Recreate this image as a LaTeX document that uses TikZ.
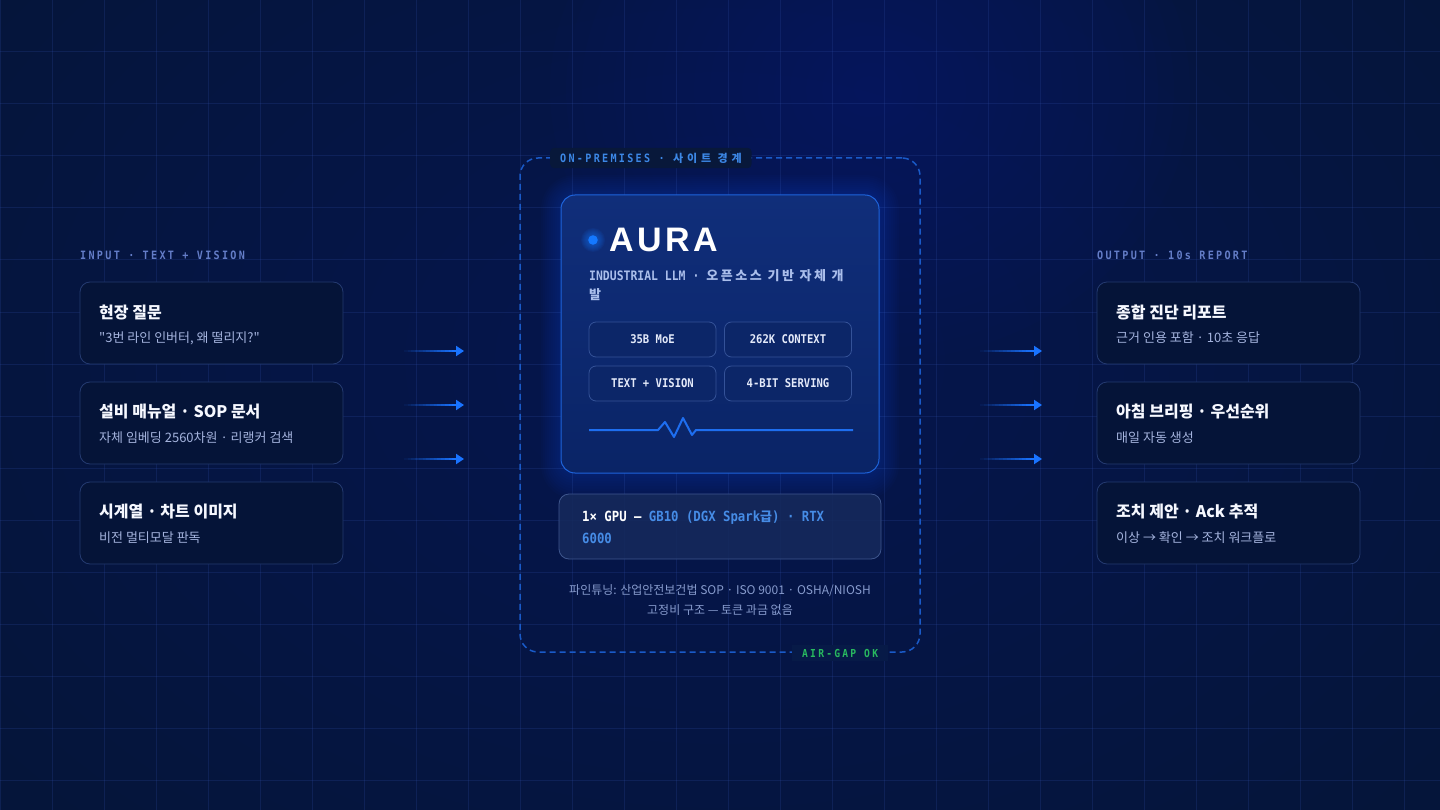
\documentclass[tikz,border=0pt]{standalone}
\usepackage{fontspec}
\setmainfont{Noto Sans CJK KR}
\newfontfamily\kr{Noto Sans CJK KR}
\newfontfamily\mono{DejaVu Sans Mono}[FakeStretch=0.88]
\newfontfamily\monols{DejaVu Sans Mono}[FakeStretch=0.88,LetterSpace=20]
\newfontfamily\krls{Noto Sans CJK KR}[LetterSpace=35]
\newfontfamily\krsub{Noto Sans CJK KR}[LetterSpace=20]
\newfontfamily\aurafont{Liberation Sans}[LetterSpace=10]
\usetikzlibrary{arrows.meta,calc}
\newcommand\fsz[1]{\fontsize{#1pt}{#1pt}\selectfont}
\definecolor{bg}{RGB}{5,21,58}
\definecolor{glowA}{RGB}{25,75,200}
\definecolor{glowB}{RGB}{20,60,160}
\definecolor{gridc}{RGB}{45,75,160}
\definecolor{cardfill}{RGB}{5,20,56}
\definecolor{cardborder}{RGB}{36,58,112}
\definecolor{titlec}{RGB}{246,248,255}
\definecolor{subc}{RGB}{165,180,222}
\definecolor{lblc}{RGB}{100,125,200}
\definecolor{arrowc}{RGB}{25,115,255}
\definecolor{dashc}{RGB}{25,90,200}
\definecolor{premc}{RGB}{60,135,230}
\definecolor{patchc}{RGB}{8,24,58}
\definecolor{auratop}{RGB}{16,46,122}
\definecolor{aurabot}{RGB}{10,36,102}
\definecolor{auraborder}{RGB}{30,100,220}
\definecolor{halo}{RGB}{30,100,255}
\definecolor{dotc}{RGB}{20,120,255}
\definecolor{aurasub}{RGB}{170,190,235}
\definecolor{chipb}{RGB}{52,82,152}
\definecolor{chipf}{RGB}{12,38,104}
\definecolor{chipt}{RGB}{228,234,250}
\definecolor{pulsec}{RGB}{30,110,240}
\definecolor{gpuf}{RGB}{22,42,92}
\definecolor{gpub}{RGB}{62,86,142}
\definecolor{gpublue}{RGB}{70,140,230}
\definecolor{footc}{RGB}{135,155,205}
\definecolor{greenc}{RGB}{40,185,95}
\definecolor{gappatch}{RGB}{7,26,71}
\newcommand\flowarr[2]{%
  \foreach \k in {0,...,13}{%
    \pgfmathsetmacro\op{(\k+1)/14}%
    \pgfmathsetmacro\ta{\k/14}%
    \pgfmathsetmacro\tb{(\k+1)/14}%
    \draw[arrowc, line width=1.8pt, draw opacity=\op] ($(#1)!\ta!($(#2)+(-8,0)$)$) -- ($(#1)!\tb!($(#2)+(-8,0)$)$);
  }%
  \draw[arrowc, line width=1.8pt, -{Triangle[length=8pt,width=10pt]}] ($(#2)+(-9,0)$) -- (#2);%
}
\begin{document}
\begin{tikzpicture}[x=1pt,y=-1pt,
  card/.style={draw=cardborder, fill=cardfill, rounded corners=10pt, line width=0.8pt, minimum width=263pt, minimum height=82pt, inner sep=0pt},
  ttl/.style={anchor=west, inner sep=0pt, text=titlec, font=\kr\bfseries\fsz{16}},
  sub/.style={anchor=west, inner sep=0pt, text=subc, font=\kr\fsz{13}},
  lbl/.style={anchor=west, inner sep=0pt, text=lblc, font=\monols\bfseries\fsz{11.5}},
  chip/.style={draw=chipb, fill=chipf, rounded corners=7pt, line width=0.8pt, minimum width=127pt, minimum height=35pt, text=chipt, font=\mono\bfseries\fsz{12}, inner sep=0pt},
  foot/.style={inner sep=0pt, text=footc, font=\kr\fsz{12}}
]
\useasboundingbox (0,0) rectangle (1440,810);
\clip (0,0) rectangle (1440,810);
\fill[bg] (0,0) rectangle (1440,810);
% background glows
\foreach \i in {1,...,20}{%
  \pgfmathsetmacro\rx{45*\i}\pgfmathsetmacro\ry{32*\i}%
  \fill[glowB, opacity=0.012] (720,360) ellipse [x radius=\rx pt, y radius=\ry pt];}
\foreach \i in {1,...,20}{%
  \pgfmathsetmacro\rr{16*\i}%
  \fill[glowA, opacity=0.015] (870,90) ellipse [x radius=\rr pt, y radius=0.85*\rr pt];}
% grid
\foreach \x in {0,52,...,1440} \draw[gridc, line width=1pt, opacity=0.24] (\x,0) -- (\x,810);
\foreach \y in {0,52,...,810} \draw[gridc, line width=1pt, opacity=0.24] (0,\y) -- (1440,\y);

% labels
\node[lbl] (inlbl) at (80,255) {INPUT · TEXT + VISION};
\node[lbl] (outlbl) at (1097,255) {OUTPUT · 10s REPORT};

% left cards
\node[card] (in1) at (211.5,323) {};
\node[card] (in2) at (211.5,423) {};
\node[card] (in3) at (211.5,523) {};
\node[ttl] (in1t) at (99,312) {현장 질문};
\node[sub] (in1s) at (99,338) {"3번 라인 인버터, 왜 떨리지?"};
\node[ttl] (in2t) at (99,412) {설비 매뉴얼 · SOP 문서};
\node[sub] (in2s) at (99,438) {자체 임베딩 2560차원 · 리랭커 검색};
\node[ttl] (in3t) at (99,512) {시계열 · 차트 이미지};
\node[sub] (in3s) at (99,538) {비전 멀티모달 판독};

% right cards
\node[card] (out1) at (1228.5,323) {};
\node[card] (out2) at (1228.5,423) {};
\node[card] (out3) at (1228.5,523) {};
\node[ttl] (out1t) at (1116,312) {종합 진단 리포트};
\node[sub] (out1s) at (1116,338) {근거 인용 포함 · 10초 응답};
\node[ttl] (out2t) at (1116,412) {아침 브리핑 · 우선순위};
\node[sub] (out2s) at (1116,438) {매일 자동 생성};
\node[ttl] (out3t) at (1116,512) {조치 제안 · Ack 추적};
\node[sub] (out3s) at (1116,538) {이상 → 확인 → 조치 워크플로};

% arrows
\coordinate (la1) at (404,351); \coordinate (lb1) at (464,351);
\coordinate (la2) at (404,405); \coordinate (lb2) at (464,405);
\coordinate (la3) at (404,459); \coordinate (lb3) at (464,459);
\coordinate (ra1) at (980,351); \coordinate (rb1) at (1042,351);
\coordinate (ra2) at (980,405); \coordinate (rb2) at (1042,405);
\coordinate (ra3) at (980,459); \coordinate (rb3) at (1042,459);
\flowarr{la1}{lb1}
\flowarr{la2}{lb2}
\flowarr{la3}{lb3}
\flowarr{ra1}{rb1}
\flowarr{ra2}{rb2}
\flowarr{ra3}{rb3}

% on-premises boundary
\node[draw=dashc, line width=1.5pt, dash pattern=on 6pt off 4pt, rounded corners=18pt, minimum width=400pt, minimum height=494pt, inner sep=0pt] (prem) at (720,405) {};
\node[fill=patchc, rounded corners=4pt, inner xsep=10pt, inner ysep=5pt, anchor=west, text=premc] (premlbl) at (550,158) {{\monols\bfseries\fsz{11.5}ON-PREMISES · }{\krls\bfseries\fsz{11}사이트 경계}};
\node[fill=gappatch, inner xsep=10pt, inner ysep=4pt, anchor=west, text=greenc, font=\monols\bfseries\fsz{11}] (gap) at (792,653) {AIR-GAP OK};

% halo of main card
\foreach \i in {1,...,10}
  \fill[halo, opacity=0.022, rounded corners={14pt+2*\i pt}] (561-2*\i,195-2*\i) rectangle (879+2*\i,473+2.6*\i);

% main card
\node[draw=auraborder, line width=1pt, rounded corners=14pt, top color=auratop, bottom color=aurabot, minimum width=318pt, minimum height=278pt, inner sep=0pt] (aura) at (720,334) {};
\foreach \r in {12,11,10,9,8,7,6}
  \fill[dotc, opacity=0.07] (593,240) circle (\r pt);
\fill[dotc] (593,240) circle (4.8pt);
\node[anchor=west, inner sep=0pt, text=white, font=\aurafont\bfseries\fsz{34}] (auratitle) at (609,240) {AURA};
\node[anchor=west, inner sep=0pt, text=aurasub] (aurasub1) at (589,276) {{\mono\bfseries\fsz{13}INDUSTRIAL LLM · }{\krsub\bfseries\fsz{13}오픈소스 기반 자체 개}};
\node[anchor=west, inner sep=0pt, text=aurasub, font=\kr\bfseries\fsz{13}] (aurasub2) at (589,295) {발};

\node[chip] (c1) at (652.5,339.5) {35B MoE};
\node[chip] (c2) at (788,339.5) {262K CONTEXT};
\node[chip] (c3) at (652.5,383.5) {TEXT + VISION};
\node[chip] (c4) at (788,383.5) {4-BIT SERVING};

\draw[pulsec, line width=2pt, line join=round] (589,430) -- (658,430) -- (665,422) -- (674,437) -- (683,418) -- (692,435) -- (696,430) -- (853,430);

% GPU box
\node[draw=gpub, fill=gpuf, fill opacity=0.85, line width=0.8pt, rounded corners=10pt, minimum width=322pt, minimum height=65pt, inner sep=0pt] (gpu) at (720,526.5) {};
\node[anchor=west, inner sep=0pt] (gpu1) at (582,518) {{\mono\bfseries\fsz{14}\color{white}1× GPU — }{\mono\bfseries\fsz{14}\color{gpublue}GB10 (DGX Spark}{\kr\bfseries\fsz{13}\color{gpublue}급}{\mono\bfseries\fsz{14}\color{gpublue}) · RTX}};
\node[anchor=west, inner sep=0pt, text=gpublue, font=\mono\bfseries\fsz{14}] (gpu2) at (582,538) {6000};

\node[foot] (foot1) at (720,591) {파인튜닝: 산업안전보건법 SOP · ISO 9001 · OSHA/NIOSH};
\node[foot] (foot2) at (720,610) {고정비 구조 — 토큰 과금 없음};
\end{tikzpicture}
\end{document}
